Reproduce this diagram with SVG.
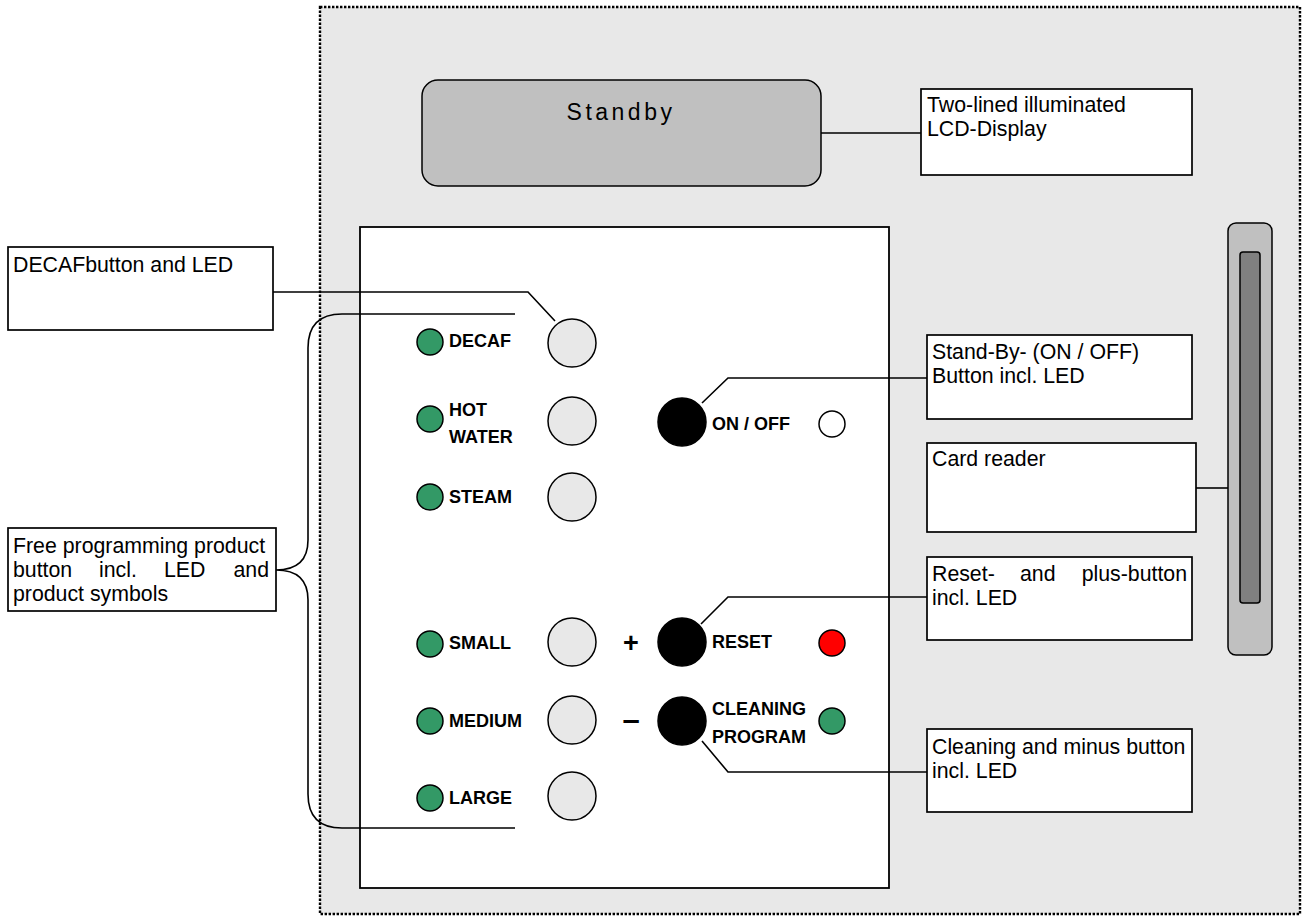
<svg xmlns="http://www.w3.org/2000/svg" width="1304" height="916" viewBox="0 0 1304 916">
<style>
.ann{font-family:"Liberation Sans",Arial,sans-serif;font-size:21.3px;fill:#000}
.lbl{font-family:"Liberation Sans",Arial,sans-serif;font-size:18px;font-weight:bold;fill:#000}
.sym{font-family:"Liberation Sans",Arial,sans-serif;font-size:27px;font-weight:bold;fill:#000;text-anchor:middle}
.box{fill:#fff;stroke:#000;stroke-width:1.7}
.btn{fill:#e8e8e8;stroke:#000;stroke-width:1.5}
.blk{fill:#000;stroke:#000;stroke-width:1.5}
.led{fill:#339966;stroke:#000;stroke-width:1.5}
.con{fill:none;stroke:#000;stroke-width:1.6}
</style>
<rect x="0" y="0" width="1304" height="916" fill="#fff"/>
<g id="housing">
<rect x="320" y="7" width="980" height="907" fill="#e8e8e8" stroke="#000" stroke-width="2.4" stroke-dasharray="2.4 1.6"/>
</g>
<g id="panel">
<rect x="360" y="227" width="529" height="661" fill="#fff" stroke="#000" stroke-width="1.8"/>
</g>
<g id="display">
<rect x="422" y="80" width="399" height="106" rx="16" fill="#c0c0c0" stroke="#000" stroke-width="1.5"/>
<text x="621" y="120" text-anchor="middle" style="font-family:'Liberation Sans',Arial,sans-serif;font-size:23px;letter-spacing:3.5px" fill="#000">Standby</text>
</g>
<g id="cardreader">
<rect x="1228" y="223" width="44" height="432" rx="8" fill="#c0c0c0" stroke="#000" stroke-width="1.5"/>
<rect x="1240" y="252" width="20" height="351" rx="3" fill="#808080" stroke="#000" stroke-width="1.5"/>
</g>
<g id="connectors">
<path class="con" d="M821 133 H921"/>
<path class="con" d="M1196 488 H1228"/>
<path class="con" d="M273 292 H528 L555 321"/>
<path class="con" d="M702 403 L728 378 H927"/>
<path class="con" d="M701 624 L728 597 H927"/>
<path class="con" d="M702 741 L728 772 H927"/>
<path class="con" d="M515 314 H342 Q308 314 308 348 V540 Q308 570 276 570 Q308 570 308 600 V794 Q308 828 342 828 H515"/>
</g>
<g id="lcd-label">
<rect class="box" x="921" y="89" width="271" height="86"/>
<text class="ann" x="927" y="112">Two-lined illuminated</text>
<text class="ann" x="927" y="136">LCD-Display</text>
</g>
<g id="decaf-label">
<rect class="box" x="8" y="247" width="265" height="83"/>
<text class="ann" x="13" y="272">DECAFbutton and LED</text>
</g>
<g id="free-label">
<rect class="box" x="8" y="528" width="268" height="83"/>
<text class="ann" x="13" y="553">Free programming product</text>
<text class="ann" y="577"><tspan x="13">button</tspan><tspan x="99">incl.</tspan><tspan x="164">LED</tspan></text>
<text class="ann" x="269" y="577" text-anchor="end">and</text>
<text class="ann" x="13" y="601">product symbols</text>
</g>
<g id="standby-label">
<rect class="box" x="927" y="335" width="265" height="84"/>
<text class="ann" x="932" y="359">Stand-By- (ON / OFF)</text>
<text class="ann" x="932" y="383">Button incl. LED</text>
</g>
<g id="card-label">
<rect class="box" x="927" y="443" width="269" height="89"/>
<text class="ann" x="932" y="466">Card reader</text>
</g>
<g id="reset-label">
<rect class="box" x="927" y="557" width="265" height="83"/>
<text class="ann" y="581"><tspan x="932">Reset-</tspan><tspan x="1020">and</tspan></text>
<text class="ann" x="1187" y="581" text-anchor="end">plus-button</text>
<text class="ann" x="932" y="605">incl. LED</text>
</g>
<g id="cleaning-label">
<rect class="box" x="927" y="729" width="265" height="83"/>
<text class="ann" x="932" y="754">Cleaning and minus button</text>
<text class="ann" x="932" y="778">incl. LED</text>
</g>
<g id="decaf">
<circle class="led" cx="430" cy="342" r="13"/>
<text class="lbl" x="449" y="347">DECAF</text>
<circle class="btn" cx="572" cy="343" r="24"/>
</g>
<g id="hotwater">
<circle class="led" cx="430" cy="419" r="13"/>
<text class="lbl" x="449" y="416">HOT</text>
<text class="lbl" x="449" y="443">WATER</text>
<circle class="btn" cx="572" cy="421" r="24"/>
</g>
<g id="steam">
<circle class="led" cx="430" cy="497" r="13"/>
<text class="lbl" x="449" y="503">STEAM</text>
<circle class="btn" cx="572" cy="497" r="24"/>
</g>
<g id="small">
<circle class="led" cx="430" cy="644" r="13"/>
<text class="lbl" x="449" y="649">SMALL</text>
<circle class="btn" cx="572" cy="642" r="24"/>
</g>
<g id="medium">
<circle class="led" cx="430" cy="721" r="13"/>
<text class="lbl" x="449" y="727">MEDIUM</text>
<circle class="btn" cx="572" cy="720" r="24"/>
</g>
<g id="large">
<circle class="led" cx="430" cy="798" r="13"/>
<text class="lbl" x="449" y="804">LARGE</text>
<circle class="btn" cx="572" cy="796" r="24"/>
</g>
<g id="onoff">
<circle class="blk" cx="682" cy="422" r="24"/>
<text class="lbl" x="712" y="430">ON / OFF</text>
<circle cx="832" cy="424" r="13" fill="#fff" stroke="#000" stroke-width="1.5"/>
</g>
<g id="reset">
<text class="sym" x="631" y="652">+</text>
<circle class="blk" cx="682" cy="642" r="24"/>
<text class="lbl" x="712" y="648">RESET</text>
<circle cx="832" cy="643" r="13" fill="#ff0000" stroke="#000" stroke-width="1.5"/>
</g>
<g id="cleaning">
<text class="sym" x="631" y="730" style="font-size:31px">–</text>
<circle class="blk" cx="682" cy="721" r="24"/>
<text class="lbl" x="712" y="715">CLEANING</text>
<text class="lbl" x="712" y="743">PROGRAM</text>
<circle class="led" cx="832" cy="721" r="13"/>
</g>
</svg>
